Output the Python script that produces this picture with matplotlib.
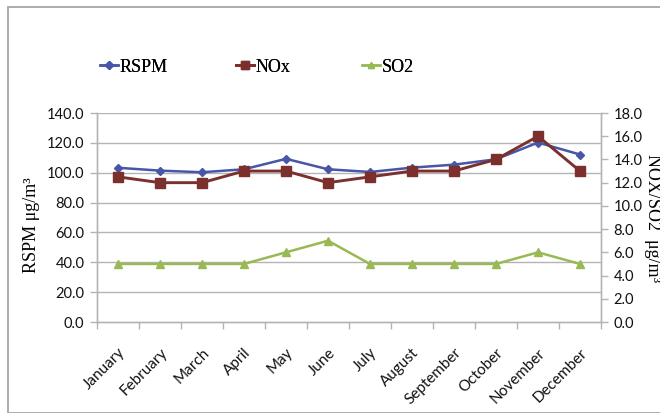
import matplotlib
matplotlib.use("Agg")
import matplotlib.pyplot as plt
from matplotlib.patches import Rectangle
import numpy as np

months = ["January", "February", "March", "April", "May", "June", "July",
          "August", "September", "October", "November", "December"]
rspm = [103.3, 101.4, 100.3, 102.3, 109.3, 102.3, 100.5, 103.4, 105.4, 109.0, 120.2, 112.2]
nox = [12.5, 12.0, 12.0, 13.0, 13.0, 12.0, 12.5, 13.0, 13.0, 14.0, 16.0, 13.0]
so2 = [5.0, 5.0, 5.0, 5.0, 6.0, 7.0, 5.0, 5.0, 5.0, 5.0, 6.0, 5.0]
left_ticks = [0, 20, 40, 60, 80, 100, 120, 140]
right_ticks = [0, 2, 4, 6, 8, 10, 12, 14, 16, 18]

C_RSPM = "#4756a6"
C_NOX = "#7c302e"
C_SO2 = "#98b954"
GRID = "#b4b4b4"

W, H = 660, 413
fig = plt.figure(figsize=(W / 100, H / 100), dpi=100)

# chart frame
fig.patches.append(Rectangle((8 / W, 0), 1.2, 1 - 7 / H, transform=fig.transFigure,
                             fill=False, edgecolor="#a6a6a6", linewidth=1.3))

x0, x1, ytop, ybot = 97, 601, 113, 322
ax = fig.add_axes([x0 / W, 1 - ybot / H, (x1 - x0) / W, (ybot - ytop) / H])
ax2 = ax.twinx()

x = np.arange(len(months))
ax.set_xlim(-0.5, len(months) - 0.5)
ax.set_ylim(0, 140)
ax2.set_ylim(0, 18)

for y in left_ticks[1:]:
    ax.axhline(y, color=GRID, linewidth=1.0, zorder=0)

l1, = ax.plot(x, rspm, color=C_RSPM, linewidth=1.8, marker="D", markersize=4,
              label="RSPM", zorder=3)
l2, = ax2.plot(x, nox, color=C_NOX, linewidth=2.1, marker="s", markersize=6.5,
               label="NOx", zorder=3)
l3, = ax2.plot(x, so2, color=C_SO2, linewidth=1.8, marker="^", markersize=5.5,
               label="SO2", zorder=3)

tick_font = dict(family="Lato", size=10.5, color="#111111")

ax.set_yticks(left_ticks)
ax.set_yticklabels([f"{v:.1f}" for v in left_ticks], **tick_font)
ax2.set_yticks(right_ticks)
ax2.set_yticklabels([f"{v:.1f}" for v in right_ticks], **tick_font)

ax.set_xticks(x)
ax.set_xticklabels(months, rotation=45, ha="right", rotation_mode="anchor",
                   family="Lato", size=11, color="#111111")
ax.set_xticks(np.arange(len(months) + 1) - 0.5, minor=True)
ax.tick_params(axis="x", which="major", length=0, pad=17)
ax.tick_params(axis="x", which="minor", length=5, color=GRID, width=1)
ax.tick_params(axis="y", length=5, color=GRID, width=1, pad=4)
ax2.tick_params(axis="y", length=5, color=GRID, width=1, pad=4)

for a in (ax, ax2):
    a.spines["top"].set_visible(False)
    for s in ("left", "right", "bottom"):
        a.spines[s].set_color(GRID)
        a.spines[s].set_linewidth(1.0)

serif = ["Liberation Serif", "DejaVu Serif"]
fig.text(32 / W, 1 - 225 / H, "RSPM μg/m³", rotation=90, ha="center", va="center",
         family=serif, size=13)
fig.text(652 / W, 1 - 218 / H, "NOX/SO2  μg/m³", rotation=-90, ha="center", va="center",
         family=serif, size=13)

# one legend entry per series, spaced across the top
for handle, left in ((l1, 100), (l2, 236), (l3, 362)):
    leg = fig.legend(handles=[handle], loc="center left",
                     bbox_to_anchor=(left / W, 1 - 67 / H), frameon=False,
                     prop=dict(family=serif, size=13), borderpad=0, borderaxespad=0,
                     handlelength=1.0, handletextpad=0.1, markerscale=0.9)
    fig.add_artist(leg)

fig.savefig("out.png", dpi=100)
